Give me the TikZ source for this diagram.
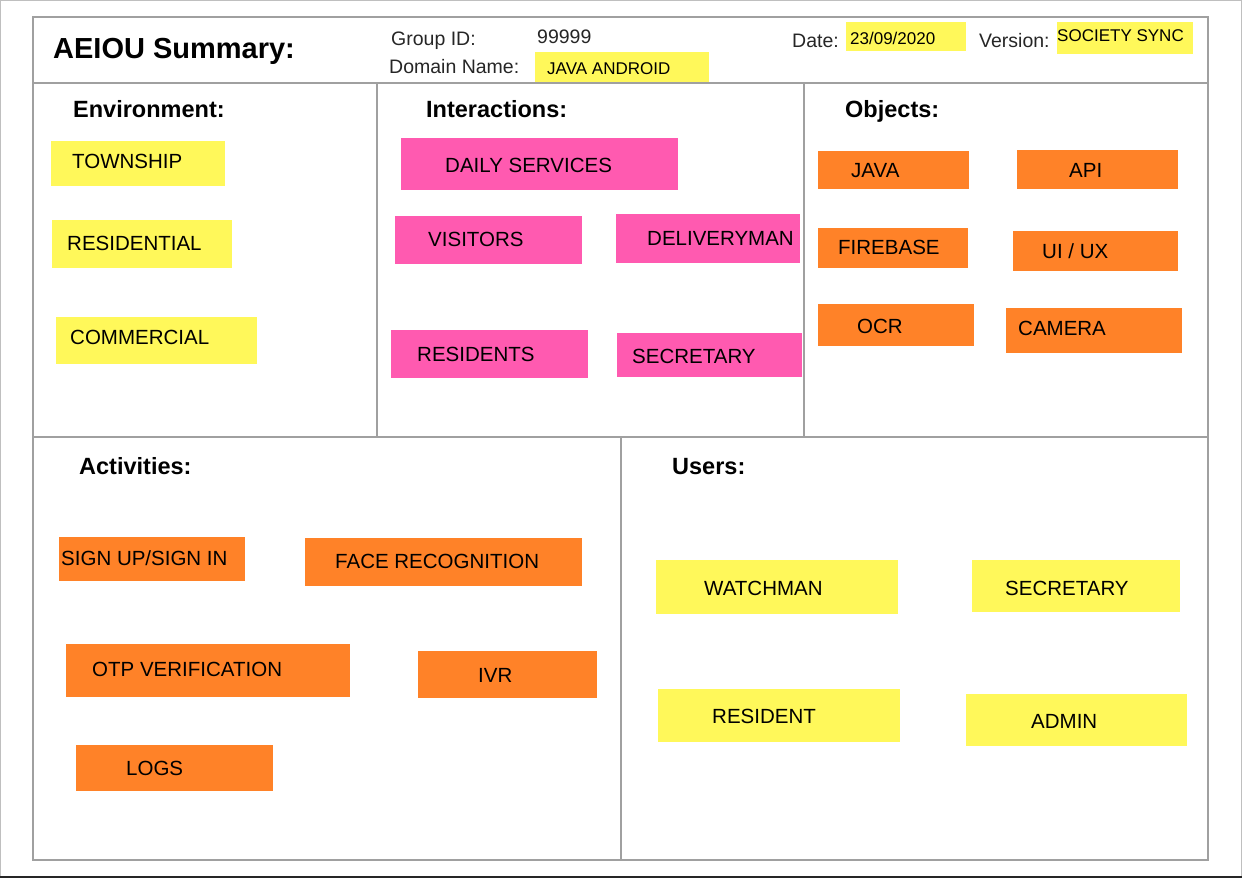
\documentclass[tikz,border=0pt]{standalone}
\usepackage{fontspec}
\setmainfont{Liberation Sans}
\definecolor{stY}{HTML}{FFF85A}
\definecolor{stP}{HTML}{FF5AB0}
\definecolor{stO}{HTML}{FF8228}
\definecolor{frameG}{HTML}{A0A0A0}
\tikzset{
  txt/.style={anchor=west, inner sep=0pt, text height=14.7pt, text depth=0pt, font=\fontsize{20.5}{22}\selectfont},
  small/.style={txt, text height=12.2pt, font=\fontsize{17}{18}\selectfont},
  hdr/.style={txt, text height=16.8pt, font=\fontsize{23.5}{26}\selectfont\bfseries},
  lbl/.style={txt, text height=14.0pt, font=\fontsize{19.5}{22}\selectfont, text=black!85},
  ttl/.style={txt, text height=20.8pt, font=\fontsize{29}{32}\selectfont\bfseries},
  frm/.style={draw=frameG, line width=1.1pt},
}
\newcommand{\sticky}[9][txt]{%
  \fill[#2] (#3,#4) rectangle (#5,#6);
  \node[#1] (#7) at (#8) {#9};}
\begin{document}
\begin{tikzpicture}[x=1pt,y=-1pt]
\useasboundingbox (0,0) rectangle (1242,878);
\fill[white] (0,0) rectangle (1242,878);
% outer border
\draw[gray!50, line width=0.8pt] (0.5,877) -- (0.5,0.5) -- (1241.5,0.5) -- (1241.5,877);
\draw[black!85, line width=2pt] (0,877) -- (1242,877);
% main frame
\draw[frm] (33,17) rectangle (1208,860);
\draw[frm] (33,83) -- (1208,83);
\draw[frm] (33,437) -- (1208,437);
\draw[frm] (377,83) -- (377,437);
\draw[frm] (804,83) -- (804,437);
\draw[frm] (621,437) -- (621,860);
% header
\node[ttl] (title) at (53,48) {AEIOU Summary:};
\node[lbl] (gid) at (391,38) {Group ID:};
\node[lbl] (gidv) at (537,36) {99999};
\node[lbl] (dom) at (389,66) {Domain Name:};
\sticky[small]{stY}{535}{52}{709}{82}{domv}{547,68}{JAVA ANDROID}
\node[lbl] (date) at (792,40) {Date:};
\sticky[small]{stY}{846}{22}{966}{51}{datev}{850,38}{23/09/2020}
\node[lbl] (ver) at (979,40) {Version:};
\sticky[small]{stY}{1057}{22}{1193}{54}{verv}{1057,35}{SOCIETY SYNC}
% section headings
\node[hdr] (henv) at (73,109) {Environment:};
\node[hdr] (hint) at (426,109) {Interactions:};
\node[hdr] (hobj) at (845,109) {Objects:};
\node[hdr] (hact) at (79,466) {Activities:};
\node[hdr] (husr) at (672,466) {Users:};
% Environment
\sticky{stY}{51}{141}{225}{186}{township}{72,161}{TOWNSHIP}
\sticky{stY}{52}{220}{232}{268}{residential}{67,243}{RESIDENTIAL}
\sticky{stY}{56}{317}{257}{364}{commercial}{70,337}{COMMERCIAL}
% Interactions
\sticky{stP}{401}{138}{678}{190}{daily}{445,165}{DAILY SERVICES}
\sticky{stP}{395}{216}{582}{264}{visitors}{428,239}{VISITORS}
\sticky{stP}{616}{214}{800}{263}{delivery}{647,238}{DELIVERYMAN}
\sticky{stP}{391}{330}{588}{378}{residents}{417,354}{RESIDENTS}
\sticky{stP}{617}{333}{802}{377}{secretaryi}{632,356}{SECRETARY}
% Objects
\sticky{stO}{818}{151}{969}{189}{java}{851,170}{JAVA}
\sticky{stO}{1017}{150}{1178}{189}{api}{1069,170}{API}
\sticky{stO}{818}{228}{968}{268}{firebase}{838,247}{FIREBASE}
\sticky{stO}{1013}{231}{1178}{271}{uiux}{1042,251}{UI / UX}
\sticky{stO}{818}{304}{974}{346}{ocr}{857,326}{OCR}
\sticky{stO}{1006}{308}{1182}{353}{camera}{1018,328}{CAMERA}
% Activities
\sticky{stO}{59}{537}{245}{581}{signup}{61,558}{SIGN UP/SIGN IN}
\sticky{stO}{305}{538}{582}{586}{face}{335,561}{FACE RECOGNITION}
\sticky{stO}{66}{644}{350}{697}{otp}{92,669}{OTP VERIFICATION}
\sticky{stO}{418}{651}{597}{698}{ivr}{478,675}{IVR}
\sticky{stO}{76}{745}{273}{791}{logs}{126,768}{LOGS}
% Users
\sticky{stY}{656}{560}{898}{614}{watchman}{704,588}{WATCHMAN}
\sticky{stY}{972}{560}{1180}{612}{secretaryu}{1005,588}{SECRETARY}
\sticky{stY}{658}{689}{900}{742}{resident}{712,716}{RESIDENT}
\sticky{stY}{966}{694}{1187}{746}{admin}{1031,721}{ADMIN}
\end{tikzpicture}
\end{document}
